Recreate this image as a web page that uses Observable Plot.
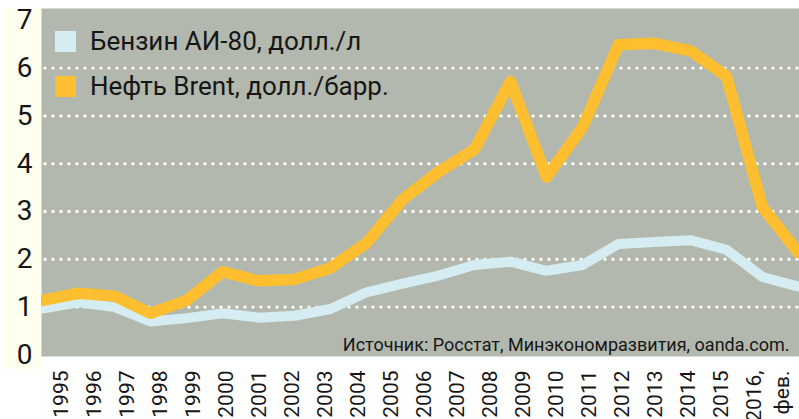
<!DOCTYPE html>
<html>
<head>
<meta charset="utf-8">
<script src="https://cdn.jsdelivr.net/npm/d3@7"></script>
<script src="https://cdn.jsdelivr.net/npm/@observablehq/plot@0.6"></script>
<style>
html, body { margin: 0; padding: 0; background: #ffffff; }
#chart { position: relative; width: 799px; height: 419px; overflow: hidden; font-family: Roboto, sans-serif; }
#cream { position: absolute; left: 3px; top: 8px; width: 38px; height: 361px; background: #fffff0; }
#main { position: absolute; left: 0; top: 0; }
#xaxis { position: absolute; left: 0; top: 355px; }
#legend { position: absolute; left: 55px; top: 19px; width: 420px; }
#legend > div { font-family: Roboto, sans-serif; font-size: 26px; color: #161616; margin: 0; }
#legend > div > div { padding-bottom: 0; height: 45px; line-height: 45px; }
#legend svg { margin-right: 14px; }
</style>
</head>
<body>
<div id="chart">
  <div id="cream"></div>
  <div id="main"></div>
  <div id="xaxis"></div>
  <div id="legend"></div>
</div>
<script>
// ---- data ----
const years = ["1995","1996","1997","1998","1999","2000","2001","2002","2003","2004","2005",
               "2006","2007","2008","2009","2010","2011","2012","2013","2014","2015","2016, фев."];
const gasoline = [0.97,1.10,1.00,0.70,0.77,0.87,0.78,0.82,0.96,1.31,1.49,
                  1.66,1.88,1.95,1.76,1.88,2.32,2.36,2.40,2.20,1.63,1.43];
const brent = [1.14,1.29,1.23,0.87,1.14,1.74,1.55,1.58,1.82,2.34,3.25,
               3.83,4.30,5.72,3.72,4.76,6.49,6.52,6.36,5.83,3.09,2.14];
const seriesNames = ["Бензин АИ-80, долл./л", "Нефть Brent, долл./барр."];
const seriesColors = ["#d4ecf2", "#fdbf2f"];
const yTicks = [0,1,2,3,4,5,6,7];
const gridValues = [1,2,3,4,5,6];
const sourceText = "Источник: Росстат, Минэкономразвития, oanda.com.";

const main = Plot.plot({
  width: 799, height: 419,
  marginLeft: 41, marginRight: 0, marginTop: 8, marginBottom: 63,
  style: { background: "transparent", fontFamily: "Roboto, sans-serif", color: "#161616", overflow: "visible" },
  x: { type: "point", domain: years, padding: 0, axis: null },
  y: { domain: [-0.033, 7.247] },
  marks: [
    Plot.frame({ fill: "#b2b8ad", stroke: "none" }),
    Plot.ruleY(gridValues, { stroke: "#fbfbf3", strokeWidth: 3.4, strokeDasharray: "0,8", strokeDashoffset: -4, strokeLinecap: "round" }),
    Plot.axisY(yTicks, { tickSize: 0, tickPadding: 17, textAnchor: "middle", fontSize: 28, label: null, fill: "#161616" }),
    Plot.line(gasoline, { x: (d, i) => years[i], y: d => d, stroke: seriesColors[0], strokeWidth: 10, strokeLinejoin: "round", clip: "frame" }),
    Plot.line(brent, { x: (d, i) => years[i], y: d => d, stroke: seriesColors[1], strokeWidth: 11.5, strokeLinejoin: "round", clip: "frame" }),
    Plot.text([sourceText], { text: d => d, frameAnchor: "bottom-right", textAnchor: "end", lineAnchor: "bottom", dx: -10, dy: -6, fontSize: 18, fill: "#161616", ariaLabel: "source" })
  ]
});
document.getElementById("main").appendChild(main);
d3.select(main).selectAll('g[aria-label="source"] text')
  .attr("textLength", 359).attr("lengthAdjust", "spacingAndGlyphs");

const xa = Plot.plot({
  width: 799, height: 64,
  marginLeft: 42.5, marginRight: 52.5, marginTop: 0, marginBottom: 63,
  style: { background: "transparent", fontFamily: "Roboto, sans-serif", color: "#161616", overflow: "visible" },
  x: { type: "point", domain: years, padding: 0 },
  marks: [
    Plot.axisX({ tickRotate: -90, tickSize: 0, tickPadding: 14, fontSize: 21, lineAnchor: "top", lineHeight: 1.33,
                 tickFormat: d => d.replace(", ", ",\n"), label: null, fill: "#161616" })
  ]
});
document.getElementById("xaxis").appendChild(xa);

const lg = Plot.legend({
  color: { type: "ordinal", domain: seriesNames, range: seriesColors },
  legend: "swatches", columns: 1, swatchSize: 21
});
document.getElementById("legend").appendChild(lg);
</script>
</body>
</html>
